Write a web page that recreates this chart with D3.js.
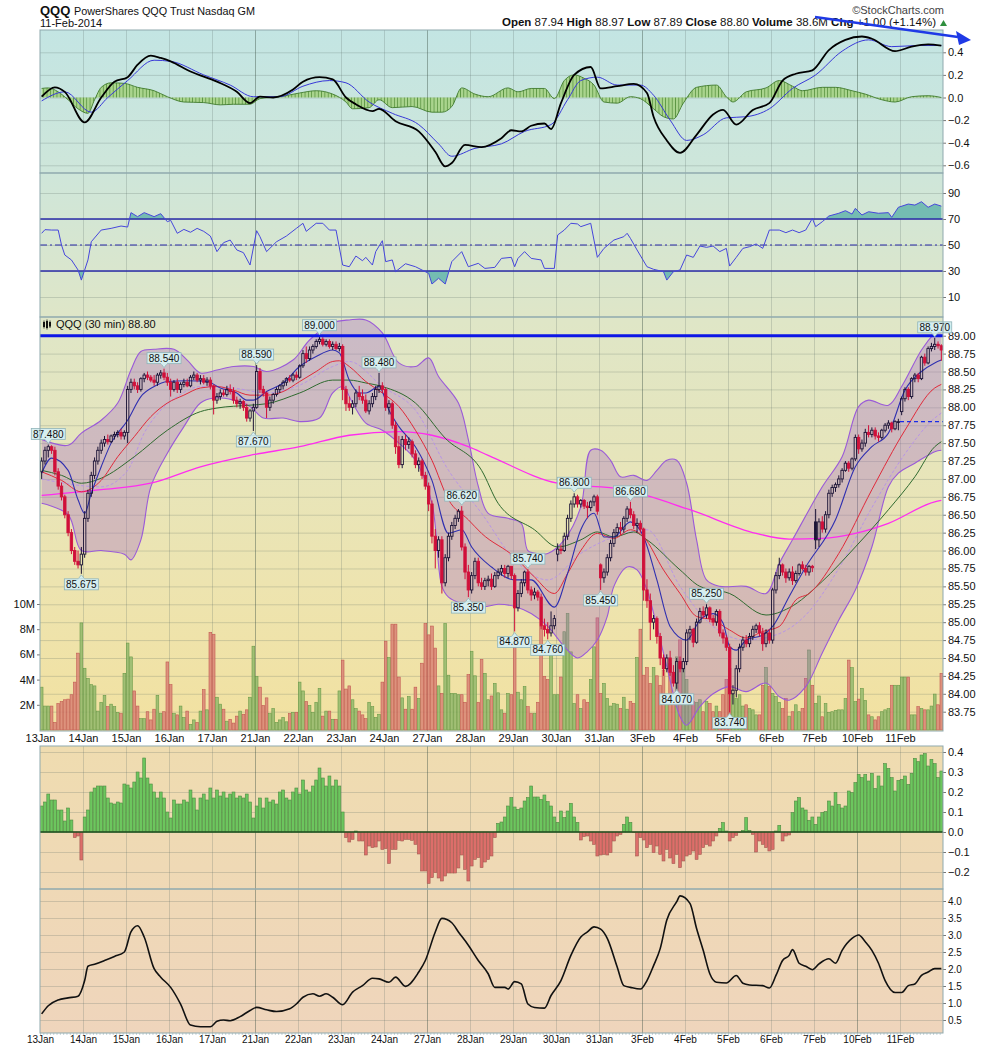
<!DOCTYPE html>
<html>
<head>
<meta charset="utf-8">
<script src="https://cdnjs.cloudflare.com/ajax/libs/d3/7.8.5/d3.min.js"></script>
<style>
  body { margin: 0; background: #fff; }
  svg { display: block; }
  text { font-family: "Liberation Sans", Arial, sans-serif; }
</style>
</head>
<body>
<svg id="chart" width="990" height="1051"></svg>
<script>
// ---------- data ----------
const days = ['13Jan','14Jan','15Jan','16Jan','17Jan','21Jan','22Jan','23Jan','24Jan','27Jan','28Jan',
  '29Jan','30Jan','31Jan','3Feb','4Feb','5Feb','6Feb','7Feb','10Feb','11Feb'];
const weekStarts = ['21Jan','27Jan','3Feb','10Feb'];
const barsPerDay = 13;

// 30 min candles: open, high, low, close
const ohlc = [
  // 13Jan
  [87.10,87.30,87.00,87.25],[87.25,87.45,87.20,87.40],[87.40,87.48,87.30,87.45],[87.45,87.47,87.35,87.40],
  [87.40,87.45,87.05,87.10],[87.10,87.15,86.85,86.90],[86.90,86.95,86.70,86.75],[86.75,86.78,86.45,86.50],
  [86.50,86.55,86.20,86.25],[86.25,86.30,85.95,86.00],[86.00,86.05,85.80,85.85],[85.85,86.00,85.75,85.80],
  [85.80,86.05,85.675,85.95],
  // 14Jan
  [85.95,86.55,85.90,86.45],[86.45,86.85,86.40,86.80],[86.80,87.10,86.75,87.05],[87.05,87.30,87.00,87.25],
  [87.25,87.45,87.20,87.40],[87.40,87.55,87.35,87.50],[87.50,87.60,87.45,87.55],[87.55,87.62,87.48,87.52],
  [87.52,87.62,87.50,87.60],[87.60,87.66,87.55,87.62],[87.62,87.68,87.58,87.65],[87.65,87.70,87.55,87.60],
  [87.60,87.68,87.55,87.65],
  // 15Jan
  [87.65,88.30,87.50,88.25],[88.25,88.40,88.20,88.35],[88.35,88.40,88.25,88.30],[88.30,88.35,88.20,88.25],
  [88.25,88.42,88.22,88.40],[88.40,88.48,88.35,88.45],[88.45,88.50,88.38,88.42],[88.42,88.45,88.35,88.38],
  [88.38,88.45,88.30,88.35],[88.35,88.48,88.30,88.45],[88.45,88.52,88.40,88.48],[88.48,88.54,88.38,88.42],
  [88.42,88.48,88.30,88.35],
  // 16Jan
  [88.35,88.40,88.15,88.25],[88.25,88.38,88.22,88.35],[88.35,88.40,88.20,88.25],[88.25,88.35,88.20,88.32],
  [88.32,88.40,88.28,88.35],[88.35,88.40,88.28,88.30],[88.30,88.45,88.28,88.42],[88.42,88.50,88.38,88.45],
  [88.45,88.48,88.35,88.38],[88.38,88.45,88.32,88.40],[88.40,88.45,88.32,88.35],[88.35,88.42,88.30,88.38],
  [88.38,88.42,88.25,88.30],
  // 17Jan
  [88.30,88.32,87.90,88.10],[88.10,88.20,88.05,88.15],[88.15,88.25,88.10,88.20],[88.20,88.25,88.15,88.18],
  [88.18,88.30,88.15,88.25],[88.25,88.32,88.18,88.22],[88.22,88.28,88.05,88.10],[88.10,88.15,88.00,88.05],
  [88.05,88.12,87.98,88.08],[88.08,88.10,87.95,88.00],[88.00,88.05,87.80,87.85],[87.85,87.98,87.80,87.95],
  [87.95,88.05,87.67,88.00],
  // 21Jan
  [88.00,88.59,87.98,88.50],[88.50,88.55,88.20,88.25],[88.25,88.30,88.15,88.20],[88.20,88.22,87.85,88.00],
  [88.00,88.15,87.95,88.10],[88.10,88.20,88.05,88.18],[88.18,88.28,88.15,88.25],[88.25,88.32,88.20,88.30],
  [88.30,88.38,88.25,88.35],[88.35,88.42,88.30,88.40],[88.40,88.45,88.35,88.38],[88.38,88.48,88.35,88.45],
  [88.45,88.50,88.38,88.42],
  // 22Jan
  [88.42,88.60,88.40,88.58],[88.58,88.80,88.55,88.75],[88.75,88.85,88.62,88.68],[88.68,88.85,88.65,88.80],
  [88.80,88.88,88.75,88.85],[88.85,88.95,88.82,88.92],[88.92,89.00,88.88,88.95],[88.95,88.98,88.85,88.88],
  [88.88,88.95,88.85,88.92],[88.92,88.95,88.82,88.85],[88.85,88.92,88.80,88.88],[88.88,88.92,88.80,88.82],
  [88.82,88.90,88.78,88.85],
  // 23Jan
  [88.85,88.88,88.10,88.25],[88.25,88.30,87.95,88.05],[88.05,88.15,87.95,88.00],[88.00,88.10,87.90,88.05],
  [88.05,88.25,88.00,88.20],[88.20,88.30,88.10,88.15],[88.15,88.25,88.05,88.10],[88.10,88.18,87.92,87.95],
  [87.95,88.10,87.90,88.05],[88.05,88.20,88.00,88.15],[88.15,88.30,88.10,88.25],[88.25,88.48,88.20,88.30],
  [88.30,88.35,88.20,88.25],
  // 24Jan
  [88.25,88.28,87.95,88.00],[88.00,88.10,87.90,88.05],[88.05,88.08,87.70,87.75],[87.75,87.80,87.35,87.45],
  [87.45,87.60,87.15,87.20],[87.20,87.60,87.15,87.55],[87.55,87.62,87.40,87.48],[87.48,87.58,87.42,87.52],
  [87.52,87.55,87.30,87.35],[87.35,87.40,87.15,87.20],[87.20,87.30,87.10,87.25],[87.25,87.28,87.00,87.05],
  [87.05,87.10,86.85,86.90],
  // 27Jan
  [86.90,86.95,86.55,86.65],[86.65,86.70,86.10,86.20],[86.20,86.30,85.75,86.00],[86.00,86.20,85.90,86.15],
  [86.15,86.20,85.40,85.55],[85.55,85.95,85.50,85.90],[85.90,86.25,85.85,86.20],[86.20,86.40,86.15,86.35],
  [86.35,86.50,86.30,86.45],[86.45,86.58,86.40,86.55],[86.55,86.62,86.00,86.05],[86.05,86.10,85.60,85.70],
  [85.70,85.80,85.35,85.45],
  // 28Jan
  [85.45,85.70,85.40,85.65],[85.65,85.90,85.60,85.85],[85.85,85.90,85.50,85.55],[85.55,85.62,85.45,85.50],
  [85.50,85.62,85.45,85.58],[85.58,85.65,85.50,85.60],[85.60,85.68,85.45,85.50],[85.50,85.70,85.48,85.65],
  [85.65,85.75,85.60,85.70],[85.70,85.80,85.65,85.75],[85.75,85.80,85.62,85.68],[85.68,85.80,85.62,85.78],
  [85.78,85.72,85.60,85.65],
  // 29Jan
  [85.65,85.68,84.87,85.20],[85.20,85.45,85.15,85.40],[85.40,85.60,85.35,85.55],[85.55,85.72,85.50,85.70],
  [85.70,85.74,85.40,85.45],[85.45,85.50,85.30,85.38],[85.38,85.48,85.32,85.42],[85.42,85.45,85.30,85.35],
  [85.35,85.40,84.90,84.95],[84.95,85.05,84.80,84.90],[84.90,85.00,84.76,84.85],[84.85,85.15,84.80,84.95],
  [84.95,85.10,84.90,85.05],
  // 30Jan
  [85.95,86.10,85.85,86.02],[86.02,86.08,85.95,86.00],[86.00,86.25,85.98,86.20],[86.20,86.50,86.15,86.45],
  [86.45,86.70,86.40,86.65],[86.65,86.80,86.60,86.75],[86.75,86.78,86.60,86.65],[86.65,86.72,86.60,86.70],
  [86.70,86.72,86.58,86.62],[86.62,86.68,86.45,86.60],[86.60,86.70,86.55,86.68],[86.68,86.78,86.62,86.75],
  [86.75,86.78,86.50,86.55],
  // 31Jan
  [85.80,85.82,85.45,85.62],[85.62,85.75,85.55,85.70],[85.70,85.95,85.65,85.90],[85.90,86.15,85.85,86.10],
  [86.10,86.30,86.05,86.25],[86.25,86.38,86.20,86.32],[86.32,86.40,86.22,86.30],[86.30,86.48,86.25,86.45],
  [86.45,86.62,86.40,86.58],[86.58,86.68,86.45,86.50],[86.50,86.55,86.30,86.35],[86.35,86.45,86.25,86.38],
  [86.38,86.42,86.25,86.30],
  // 3Feb
  [86.30,86.32,85.30,85.45],[85.45,85.60,85.20,85.30],[85.30,85.40,84.75,85.00],[85.00,85.10,84.90,85.05],
  [85.05,85.08,84.70,84.80],[84.80,84.85,84.40,84.50],[84.50,84.55,84.25,84.35],[84.35,84.55,84.30,84.50],
  [84.50,84.60,84.25,84.30],[84.30,84.40,84.10,84.15],[84.15,84.50,84.07,84.45],[84.45,84.52,84.30,84.35],
  [84.35,84.50,84.30,84.45],
  // 4Feb
  [84.45,84.90,84.40,84.85],[84.85,84.95,84.75,84.90],[84.90,84.92,84.65,84.72],[84.72,85.05,84.70,85.00],
  [85.00,85.20,84.98,85.15],[85.15,85.22,85.05,85.10],[85.10,85.25,85.05,85.20],[85.20,85.22,85.00,85.05],
  [85.05,85.10,84.95,85.00],[85.00,85.18,84.95,85.15],[85.15,85.18,84.80,84.85],[84.85,84.90,84.70,84.78],
  [84.78,84.82,84.60,84.65],
  // 5Feb
  [84.65,84.70,83.74,84.00],[84.00,84.12,83.85,84.05],[84.05,84.40,83.95,84.35],[84.35,84.70,84.30,84.65],
  [84.65,84.80,84.60,84.75],[84.75,84.82,84.65,84.70],[84.70,84.85,84.65,84.80],[84.80,84.95,84.75,84.90],
  [84.90,84.98,84.85,84.95],[84.95,85.00,84.80,84.85],[84.85,84.92,84.60,84.70],[84.70,84.90,84.65,84.85],
  [84.85,84.90,84.70,84.75],
  // 6Feb
  [84.75,85.48,84.70,85.45],[85.45,85.70,85.40,85.65],[85.65,85.90,85.60,85.80],[85.80,85.82,85.65,85.70],
  [85.70,85.75,85.55,85.62],[85.62,85.75,85.58,85.70],[85.70,85.78,85.52,85.58],[85.58,85.72,85.55,85.68],
  [85.68,85.82,85.65,85.80],[85.80,85.85,85.72,85.75],[85.75,85.80,85.65,85.70],[85.70,85.80,85.65,85.78],
  [85.78,85.80,85.70,85.76],
  // 7Feb
  [86.40,86.58,86.02,86.15],[86.15,86.45,86.05,86.40],[86.40,86.48,86.25,86.30],[86.30,86.55,86.25,86.50],
  [86.50,86.85,86.45,86.80],[86.80,86.92,86.75,86.88],[86.88,86.95,86.82,86.92],[86.92,87.05,86.88,87.00],
  [87.00,87.15,86.95,87.12],[87.12,87.25,87.10,87.22],[87.22,87.25,87.10,87.15],[87.15,87.30,87.12,87.28],
  [87.28,87.62,87.25,87.58],
  // 10Feb
  [87.58,87.62,87.35,87.42],[87.42,87.55,87.38,87.50],[87.50,87.70,87.45,87.65],[87.65,87.75,87.58,87.62],
  [87.62,87.72,87.58,87.68],[87.68,87.72,87.55,87.60],[87.60,87.65,87.52,87.58],[87.58,87.70,87.55,87.68],
  [87.68,87.78,87.65,87.75],[87.75,87.82,87.70,87.78],[87.78,87.80,87.65,87.70],[87.70,87.82,87.68,87.80],
  [87.80,87.84,87.68,87.80],
  // 11Feb
  [87.94,88.15,87.89,88.12],[88.12,88.28,88.08,88.25],[88.25,88.28,88.10,88.15],[88.15,88.42,88.12,88.40],
  [88.40,88.48,88.35,88.45],[88.45,88.48,88.35,88.40],[88.40,88.72,88.38,88.70],[88.70,88.75,88.58,88.62],
  [88.62,88.85,88.60,88.82],[88.82,88.90,88.78,88.85],[88.85,88.97,88.80,88.88],[88.88,88.92,88.82,88.86],
  [88.86,88.88,88.65,88.80]
];

// volume per bar, millions
const volume = [
  3.4,1.9,1.9,1.9,0.6,2.1,2.25,2.4,2.45,2.8,3.8,6.1,8.5,
  4.9,4.1,3.6,3.5,1.5,2.2,2.75,1.85,2.05,1.85,1.4,1.3,4.5,
  6.9,5.8,3.1,1.9,0.9,0.9,1.45,0.8,1.65,2.75,1.3,1.45,5.4,
  3.6,1.3,1.2,1.9,1.0,1.5,0.45,0.8,0.6,1.5,3.2,1.6,7.75,
  7.6,2.6,2.05,1.65,0.7,0.85,0.55,1.1,1.5,1.25,1.6,2.6,6.65,
  4.25,3.4,1.95,2.55,1.3,1.7,0.6,0.8,1.0,0.65,1.3,1.4,1.4,
  3.8,3.1,2.25,1.95,1.4,2.2,3.3,1.1,1.5,1.5,0.85,0.85,3.1,
  5.55,3.25,3.5,2.4,1.7,1.5,1.2,0.9,2.2,1.85,1.0,1.25,3.8,
  7.05,5.75,8.4,8.4,4.2,2.55,1.65,2.65,1.65,3.4,2.5,5.3,8.45,
  7.55,8.25,6.5,3.5,2.9,8.45,4.35,2.9,2.9,2.8,2.8,2.2,4.4,
  6.25,4.3,2.2,5.6,4.5,2.4,2.7,3.7,2.95,1.6,1.3,2.9,2.8,
  7.0,3.0,2.4,3.45,1.85,1.3,1.3,2.2,8.2,4.25,4.0,6.5,2.8,
  2.8,4.2,7.8,9.25,6.2,2.1,2.8,1.7,2.4,2.2,4.0,6.6,8.9,
  2.9,3.7,2.5,1.9,2.1,2.05,1.7,2.6,1.65,2.25,2.1,5.75,8.0,
  4.35,4.95,3.7,4.95,4.3,3.55,4.75,2.8,5.3,2.65,5.8,7.15,4.9,
  4.0,2.0,2.25,2.2,2.4,1.45,2.25,2.1,1.45,1.9,1.45,2.8,4.0,
  4.9,2.8,2.5,2.8,1.9,2.0,1.7,1.6,1.2,1.2,3.55,4.95,3.45,
  2.9,2.65,2.2,1.7,2.5,1.1,1.45,2.0,1.45,1.7,4.1,6.35,3.55,
  2.1,2.7,1.05,2.1,1.4,1.45,1.55,1.6,1.6,2.5,5.55,4.95,2.25,
  2.45,3.3,2.35,1.2,1.05,0.8,1.05,1.45,1.6,1.7,3.55,3.55,3.55,
  4.2,4.2,4.2,1.2,1.2,1.85,1.7,1.6,1.6,1.9,2.85,2.0,4.5
];

// overlay lines, [bar index, price]
const bbUpper = [[0,87.55],[8,87.47],[12,87.64],[18,87.82],[23,88.06],[27,88.52],[30,88.78],[34,88.81],[40,88.81],
  [44,88.66],[48,88.48],[53,88.52],[58,88.57],[64,88.57],[68,88.50],[76,88.66],[81,88.94],[88,89.18],[93,89.22],
  [98,89.22],[103,89.04],[108,88.62],[113,88.57],[117,88.69],[120,88.43],[126,88.06],[129,87.55],[132,86.90],
  [135,86.52],[141,86.45],[145,86.38],[147,86.00],[150,85.96],[153,85.96],[158,86.15],[163,86.61],[166,87.40],
  [169,87.40],[172,87.26],[175,87.03],[179,87.05],[183,86.98],[186,87.12],[189,87.26],[192,87.26],[195,86.94],
  [198,86.15],[201,85.59],[205,85.50],[213,85.50],[219,85.40],[223,85.82],[227,86.15],[236,86.89],[242,87.31],
  [247,88.01],[250,88.10],[256,88.03],[260,88.29],[266,88.80],[270,89.04],[272,89.12]];
const bbLower = [[0,86.66],[8,86.50],[12,86.00],[18,86.00],[25,85.95],[27,85.87],[30,86.15],[33,86.89],[38,87.36],
  [43,87.73],[48,88.06],[52,88.13],[58,88.10],[63,88.01],[67,87.85],[73,87.85],[78,87.80],[84,87.85],[88,88.20],
  [91,88.29],[94,88.06],[98,87.78],[103,87.68],[108,87.50],[113,87.26],[118,86.66],[121,85.50],[123,85.35],
  [127,85.26],[133,85.21],[138,85.25],[143,85.22],[148,85.12],[153,84.94],[158,84.66],[162,84.50],[165,84.59],
  [168,84.75],[171,85.08],[173,85.50],[177,85.77],[180,85.73],[183,85.45],[186,84.94],[189,84.38],[193,83.68],
  [195,83.56],[199,83.82],[203,84.00],[208,84.10],[213,84.03],[219,84.15],[223,83.96],[226,83.91],[231,84.10],
  [236,84.57],[241,85.03],[246,85.45],[251,86.05],[256,86.89],[259,87.08],[264,87.22],[270,87.38],[272,87.40]];
const bbMiddle = [[0,87.00],[18,86.89],[26,87.12],[31,87.64],[36,87.96],[41,88.15],[48,88.29],[58,88.27],[68,88.20],
  [78,88.31],[88,88.57],[93,88.64],[103,88.29],[113,87.96],[123,87.12],[133,86.52],[143,85.87],[153,85.59],
  [163,85.96],[173,86.19],[183,86.29],[193,85.50],[203,84.94],[213,84.75],[223,84.84],[231,85.10],[241,85.75],
  [251,86.60],[261,87.35],[270,87.85],[272,87.92]];
const emaFast = [[0,87.08],[3,87.29],[8,87.12],[11,86.71],[13,86.52],[15,86.80],[18,87.17],[21,87.50],[26,87.82],
  [30,88.15],[34,88.29],[38,88.36],[44,88.37],[50,88.36],[54,88.27],[59,88.20],[62,88.10],[64,88.10],[68,88.22],
  [73,88.34],[78,88.57],[83,88.71],[88,88.80],[90,88.76],[93,88.38],[96,88.20],[98,88.20],[102,88.29],[105,87.96],
  [108,87.73],[113,87.45],[118,86.98],[123,86.24],[127,86.29],[130,86.05],[136,85.77],[143,85.59],[148,85.59],
  [155,85.21],[159,85.68],[163,86.29],[167,86.52],[170,86.19],[173,86.19],[178,86.40],[182,86.19],[186,85.59],
  [190,84.94],[195,84.75],[199,85.03],[203,85.12],[206,84.99],[208,84.66],[210,84.61],[213,84.75],[218,84.82],
  [221,84.94],[226,85.36],[231,85.77],[240,86.43],[246,87.17],[251,87.45],[256,87.64],[261,88.24],[266,88.50],
  [270,88.62],[272,88.66]];
const emaMid = [[0,87.10],[6,86.98],[12,86.82],[18,86.98],[23,87.31],[28,87.59],[33,87.87],[38,88.06],[43,88.17],
  [48,88.27],[53,88.29],[58,88.24],[63,88.17],[68,88.17],[73,88.22],[78,88.36],[83,88.50],[88,88.64],[90,88.65],
  [93,88.57],[98,88.36],[103,88.20],[108,88.01],[113,87.68],[118,87.26],[123,86.71],[129,86.43],[133,86.24],
  [143,85.91],[149,85.63],[155,85.40],[159,85.68],[163,86.00],[168,86.24],[173,86.17],[178,86.29],[182,86.19],
  [188,85.73],[193,85.40],[198,85.08],[203,85.03],[208,84.89],[213,84.78],[218,84.87],[223,84.94],[228,85.31],
  [232,85.40],[241,85.96],[251,86.85],[261,87.68],[270,88.27],[272,88.32]];
const sma50 = [[0,87.12],[6,87.05],[12,86.94],[18,87.01],[28,87.31],[38,87.68],[48,87.94],[53,87.99],[63,88.03],
  [68,88.05],[78,88.20],[88,88.38],[93,88.38],[98,88.34],[103,88.29],[113,88.06],[122,87.57],[133,87.12],
  [138,86.66],[149,86.29],[156,86.05],[163,86.15],[168,86.26],[173,86.19],[179,86.26],[183,86.15],[193,85.73],
  [199,85.50],[208,85.40],[219,85.10],[226,85.20],[236,85.57],[246,86.05],[256,86.57],[264,87.03],[270,87.45],
  [272,87.52]];
const sma200 = [[0,86.77],[18,86.85],[33,86.94],[48,87.17],[63,87.33],[78,87.45],[93,87.61],[108,87.66],[118,87.61],
  [129,87.45],[135,87.33],[156,86.94],[176,86.85],[196,86.57],[216,86.24],[226,86.16],[236,86.17],[246,86.24],
  [256,86.38],[270,86.68],[272,86.70]];

// swing labels: [bar index, 'h' = high / 'l' = low]
const swings = [[2,'h'],[12,'l'],[37,'h'],[64,'l'],[65,'h'],[84,'h'],[102,'h'],[127,'h'],[129,'l'],[143,'l'],
  [147,'h'],[153,'l'],[161,'h'],[169,'l'],[178,'h'],[192,'l'],[201,'h'],[208,'l'],[270,'h']];
const resistance = 89.00;
const prevClose = 87.80;

// MACD panel, [bar index, value]
const macdLine = [[0,0.007],[4,0.09],[7,0.05],[13,-0.22],[18,0.0],[22,0.14],[26,0.18],[29,0.29],[33,0.37],[36,0.35],
  [39,0.32],[45,0.23],[53,0.14],[59,0.05],[63,-0.05],[66,0.007],[70,0.0],[76,0.07],[79,0.14],[84,0.18],[88,0.16],
  [92,0.0],[95,-0.06],[100,-0.12],[102,-0.1],[107,-0.21],[114,-0.3],[119,-0.48],[122,-0.61],[124,-0.58],[128,-0.42],
  [133,-0.44],[139,-0.36],[142,-0.29],[145,-0.3],[148,-0.25],[152,-0.23],[154,-0.28],[157,-0.05],[161,0.2],
  [166,0.27],[169,0.08],[174,0.1],[179,0.12],[183,0.04],[185,-0.17],[189,-0.38],[193,-0.49],[198,-0.33],
  [203,-0.15],[206,-0.11],[210,-0.24],[215,-0.11],[220,-0.05],[224,0.15],[228,0.21],[233,0.24],[238,0.42],
  [243,0.51],[248,0.54],[251,0.52],[258,0.41],[263,0.45],[268,0.47],[272,0.46]];
const macdSignal = [[0,-0.03],[7,0.05],[15,-0.13],[20,0.0],[26,0.15],[34,0.33],[39,0.32],[49,0.2],[57,0.11],
  [64,0.007],[72,0.007],[79,0.1],[87,0.15],[92,0.13],[99,-0.04],[106,-0.14],[114,-0.24],[120,-0.41],[124,-0.52],
  [131,-0.45],[139,-0.41],[146,-0.3],[154,-0.24],[159,-0.02],[163,0.15],[168,0.18],[174,0.11],[181,0.11],
  [185,0.02],[190,-0.2],[195,-0.38],[200,-0.33],[207,-0.18],[213,-0.17],[220,-0.1],[227,0.08],[234,0.2],
  [242,0.41],[250,0.51],[257,0.45],[265,0.46],[272,0.46]];
const macdHist = [[0,0.08],[2,0.085],[5,0.05],[8,-0.02],[11,-0.1],[14,-0.14],[16,-0.02],[18,0.09],[21,0.13],
  [25,0.125],[29,0.09],[34,0.06],[38,0.007],[43,-0.04],[49,-0.045],[54,-0.065],[58,-0.06],[63,-0.06],[66,-0.01],
  [72,0.007],[78,0.04],[83,0.06],[88,0.03],[92,-0.04],[94,-0.1],[99,-0.09],[102,-0.02],[106,-0.09],[112,-0.08],
  [118,-0.13],[121,-0.13],[124,-0.08],[127,0.085],[131,0.03],[135,0.007],[141,0.085],[144,0.05],[148,0.08],
  [152,0.08],[155,-0.01],[158,0.15],[161,0.2],[164,0.17],[167,0.11],[170,-0.04],[174,-0.05],[178,0.007],
  [181,-0.01],[185,-0.1],[188,-0.17],[191,-0.19],[194,-0.05],[198,0.09],[204,0.11],[207,0.007],[209,-0.04],
  [213,0.05],[219,0.085],[223,0.15],[227,0.1],[230,0.06],[236,0.09],[240,0.09],[245,0.06],[249,0.03],
  [254,-0.02],[258,-0.04],[263,0.007],[268,0.016],[272,0.0]];

// RSI, [bar index, value]
const rsi = [[0,59],[1,61.8],[3,61.5],[5,61.5],[6,50],[7,42.3],[9,38.5],[11,30.8],[12,23],[14,38.5],[15,52.5],
  [18,61.5],[21,62.8],[24,64.6],[26,63.8],[27,74.9],[29,71.8],[31,74.9],[34,71.8],[36,74.1],[38,67.9],[39,69],
  [41,59],[43,62],[45,59.8],[47,62.8],[49,60.5],[51,56.9],[53,44.9],[55,51.8],[57,53.8],[59,46.2],[61,44.1],
  [63,34.6],[65,61],[66,56.4],[68,44.9],[71,52.5],[74,56.9],[77,62.8],[79,66.7],[80,60.5],[83,66.7],[85,66.7],
  [87,61.5],[89,61.5],[91,34.6],[93,33.3],[95,41.5],[97,37.9],[98,40.5],[100,34.6],[101,44.9],[103,53.3],
  [104,37.2],[106,38.5],[107,29.5],[110,35.6],[113,33.3],[117,28.2],[118,20],[120,24.4],[122,20],[124,37.2],
  [127,44.9],[129,33.3],[132,35.9],[134,32],[137,32.8],[139,39.7],[142,40.5],[143,33.3],[144,39.7],[146,44.9],
  [148,39.7],[151,38.5],[152,32],[155,32],[156,57.7],[158,61.5],[160,66.7],[162,66.2],[163,64.1],[166,66.7],
  [168,40.5],[170,47.4],[173,53.8],[176,56.4],[177,59],[178,55.1],[180,46.2],[183,33.3],[185,31.3],[188,29.5],
  [189,23],[191,29.5],[193,30.8],[195,42.3],[197,40.5],[199,49.2],[201,48.2],[203,49.2],[205,44.9],[207,47.4],
  [208,33.8],[210,40.5],[212,47.4],[214,48.7],[216,50.8],[218,47.4],[220,61.5],[223,61.5],[225,59.5],[227,61.5],
  [229,59.5],[231,61.5],[233,70.5],[234,64.1],[236,67.9],[238,72.3],[241,74.4],[243,76.4],[245,73.8],[246,78.2],
  [248,73.1],[250,75.6],[253,74.4],[256,74.9],[257,71.3],[259,79],[262,81.5],[264,80.7],[266,83.3],[268,79],
  [270,81.5],[272,79.9]];

// lower histogram panel, one value per bar
const osc = [
  0.13,0.15,0.19,0.16,0.16,0.11,0.11,0.055,0.12,0.06,-0.028,-0.02,-0.14,
  0.075,0.11,0.2,0.22,0.23,0.23,0.23,0.17,0.145,0.14,0.15,0.145,0.24,0.235,0.22,0.25,0.3,0.27,0.37,0.27,0.24,
  0.2,0.17,0.2,0.17,0.1,0.07,0.16,0.14,0.14,0.16,0.15,0.21,0.17,0.11,0.17,0.19,0.16,0.22,0.17,0.21,0.18,0.2,
  0.17,0.19,0.2,0.17,0.18,0.17,0.19,0.15,0.07,0.13,0.17,0.12,0.17,0.15,0.16,0.14,0.2,0.21,0.17,0.16,0.2,0.22,
  0.19,0.26,0.21,0.2,0.23,0.26,0.32,0.27,0.23,0.28,0.23,0.26,0.23,0.1,
  -0.028,-0.05,-0.037,0.005,-0.045,-0.045,-0.115,-0.07,-0.078,-0.075,-0.045,-0.087,-0.083,-0.157,-0.087,-0.087,
  -0.042,-0.045,-0.037,-0.037,-0.042,-0.062,-0.11,-0.195,-0.195,-0.257,-0.228,-0.203,-0.23,-0.245,-0.22,-0.205,
  -0.205,-0.205,-0.18,-0.115,-0.187,-0.245,-0.17,-0.137,-0.128,-0.178,-0.15,-0.137,-0.12,-0.028,
  0.043,0.05,0.075,0.13,0.172,0.125,0.113,0.12,0.155,0.172,0.23,0.175,0.175,0.163,0.185,0.152,0.13,0.075,0.048,
  0.105,0.072,0.105,0.143,0.075,0.048,
  -0.04,-0.023,-0.02,-0.045,-0.062,-0.12,-0.115,-0.112,-0.115,-0.103,-0.045,-0.02,-0.012,
  0.038,0.075,0.048,
  -0.003,-0.12,-0.028,-0.04,-0.078,-0.062,-0.103,-0.07,-0.112,-0.145,-0.087,-0.13,-0.158,-0.112,-0.178,-0.145,
  -0.12,-0.112,-0.095,-0.137,-0.112,-0.078,-0.062,-0.07,-0.045,-0.02,0.018,0.047,0.005,-0.045,-0.028,-0.017,
  -0.003,0.008,0.072,0.008,-0.012,-0.1,-0.045,-0.062,-0.078,-0.095,-0.087,0.005,0.033,-0.045,-0.02,-0.015,
  0.097,0.155,0.172,0.12,0.11,0.058,0.075,0.038,0.075,0.097,0.102,0.155,0.13,0.197,0.138,0.12,0.13,0.205,0.197,
  0.247,0.288,0.272,0.288,0.255,0.293,0.218,0.28,0.23,0.342,0.318,0.272,0.205,0.258,0.263,0.28,0.238,0.293,
  0.368,0.352,0.385,0.392,0.33,0.363,0.342,0.272,0.305
];

// bottom line panel, [bar index, value]
const bandWidth = [[0,0.68],[2,0.92],[5,1.09],[8,1.15],[11,1.2],[13,1.66],[14,2.08],[16,2.14],[19,2.25],[22,2.37],
  [25,2.5],[27,3.09],[29,3.27],[31,2.94],[34,2.01],[36,1.76],[39,1.46],[42,0.97],[45,0.35],[48,0.3],[51,0.3],
  [53,0.46],[55,0.5],[57,0.48],[60,0.6],[63,0.78],[65,0.87],[68,0.8],[71,0.75],[75,0.83],[77,0.97],[79,1.17],
  [82,1.27],[84,1.2],[86,1.27],[88,1.17],[91,0.95],[94,1.32],[97,1.51],[100,1.73],[102,1.71],[105,1.61],
  [107,1.76],[110,1.49],[114,1.91],[116,2.25],[119,3.09],[121,3.49],[124,3.36],[126,3.09],[129,2.7],[132,2.25],
  [135,1.86],[137,1.46],[140,1.46],[141,1.41],[143,1.63],[145,1.56],[147,0.97],[149,0.87],[152,0.85],[154,1.22],
  [157,1.66],[160,2.4],[163,2.94],[165,3.09],[167,3.24],[169,3.17],[171,2.9],[174,2.06],[176,1.51],[178,1.46],
  [181,1.41],[183,1.66],[185,2.1],[187,2.6],[189,3.44],[192,3.98],[193,4.15],[196,3.93],[198,3.19],[200,2.55],
  [202,1.86],[204,1.61],[207,1.59],[210,1.81],[212,1.58],[214,1.53],[218,1.51],[220,1.44],[222,1.81],[224,2.25],
  [226,2.4],[227,2.57],[229,2.17],[231,2.08],[233,1.98],[235,2.15],[238,2.3],[240,2.17],[242,2.55],[245,2.9],
  [247,3.0],[249,2.8],[251,2.55],[253,2.17],[255,1.66],[258,1.31],[260,1.31],[262,1.51],[264,1.56],[266,1.81],
  [268,1.91],[270,2.01],[272,2.01]];

// tick labels
const macdTicks = [0.4, 0.2, 0.0, -0.2, -0.4, -0.6];
const rsiTicks = [90, 70, 50, 30, 10];
const priceTicks = [89.00,88.75,88.50,88.25,88.00,87.75,87.50,87.25,87.00,86.75,86.50,86.25,86.00,85.75,85.50,
  85.25,85.00,84.75,84.50,84.25,84.00,83.75];
const volTicks = [2, 4, 6, 8, 10];
const oscTicks = [0.4, 0.3, 0.2, 0.1, 0.0, -0.1, -0.2];
const bwTicks = [4.0, 3.5, 3.0, 2.5, 2.0, 1.5, 1.0, 0.5];

// ---------- layout ----------
const X0 = 40, X1 = 943;
const N = days.length * barsPerDay;
const svg = d3.select('#chart');
const defs = svg.append('defs');

const x = d3.scaleLinear().domain([0, N]).range([X0, X1]);
const xc = i => x(i + 0.5);
const bw = x(1) - x(0);
const dayStarts = days.map((d, i) => i * barsPerDay);

const yMacd = d3.scaleLinear().domain([-0.6, 0.4]).range([165.3, 52.3]);
const yRsi = d3.scaleLinear().domain([10, 90]).range([297, 193]);
const yPrice = d3.scaleLinear().domain([83.75, 89]).range([711.7, 335.7]);
const yVol = d3.scaleLinear().domain([0, 10]).range([730, 604]);
const yOsc = d3.scaleLinear().domain([-0.2, 0.4]).range([872, 752]);
const yBw = d3.scaleLinear().domain([0.5, 4]).range([1020, 901]);

const panels = [
  { id: 'macd', top: 30, bottom: 173, y: yMacd, ticks: macdTicks, fmt: d3.format('.1f') },
  { id: 'rsi', top: 173, bottom: 317, y: yRsi, ticks: rsiTicks, fmt: d3.format('d') },
  { id: 'price', top: 317, bottom: 731, y: yPrice, ticks: priceTicks, fmt: d3.format('.2f') },
  { id: 'osc', top: 746, bottom: 889, y: yOsc, ticks: oscTicks, fmt: d3.format('.1f') },
  { id: 'bw', top: 889, bottom: 1033, y: yBw, ticks: bwTicks, fmt: d3.format('.1f') }
];

const grad = defs.append('linearGradient').attr('id', 'bg')
  .attr('gradientUnits', 'userSpaceOnUse').attr('x1', 0).attr('x2', 0).attr('y1', 30).attr('y2', 1033);
[[0, '#c3e5e3'], [0.14, '#cee6da'], [0.29, '#dfe6c7'], [0.55, '#ede4b0'], [0.70, '#f2e1a0'],
 [0.716, '#efdcb0'], [1, '#efd5bc']].forEach(([o, c]) => grad.append('stop').attr('offset', o).attr('stop-color', c));

const gridColor = 'rgba(80,100,95,0.22)';
const weekColor = 'rgba(60,80,70,0.42)';

panels.forEach(p => {
  svg.append('rect').attr('x', X0).attr('y', p.top).attr('width', X1 - X0).attr('height', p.bottom - p.top)
    .attr('fill', 'url(#bg)');
  defs.append('clipPath').attr('id', 'clip-' + p.id).append('rect')
    .attr('x', X0).attr('y', p.top).attr('width', X1 - X0).attr('height', p.bottom - p.top);

  svg.append('g').attr('transform', `translate(${X0},0)`)
    .call(d3.axisRight(p.y).tickValues(p.ticks).tickSize(X1 - X0).tickFormat(''))
    .call(g => g.select('.domain').remove())
    .selectAll('line').attr('stroke', gridColor);

  svg.append('g').attr('transform', `translate(0,${p.bottom})`)
    .call(d3.axisBottom(x).tickValues(dayStarts.slice(1)).tickSize(-(p.bottom - p.top)).tickFormat(''))
    .call(g => g.select('.domain').remove())
    .selectAll('line')
    .attr('stroke', d => weekStarts.includes(days[d / barsPerDay]) ? weekColor : gridColor);

  const ax = svg.append('g').attr('transform', `translate(${X1},0)`)
    .call(d3.axisRight(p.y).tickValues(p.ticks).tickSize(3).tickPadding(2).tickFormat(p.fmt))
    .call(g => g.select('.domain').remove());
  ax.selectAll('line').attr('stroke', '#777');
  ax.selectAll('text').attr('font-size', p.id === 'bw' ? 10 : 11)
    .attr('font-family', '"Liberation Sans", Arial, sans-serif').attr('fill', '#111');
});

const lineOf = y => d3.line().x(d => xc(d[0])).y(d => y(d[1])).curve(d3.curveMonotoneX);

// ---------- MACD ----------
const pat = defs.append('pattern').attr('id', 'macdStripes').attr('patternUnits', 'userSpaceOnUse')
  .attr('x', X0).attr('y', 0).attr('width', bw).attr('height', 20);
pat.append('rect').attr('width', bw).attr('height', 20).attr('fill', '#a9d48d');
pat.append('line').attr('x1', 0.4).attr('x2', 0.4).attr('y1', 0).attr('y2', 20)
  .attr('stroke', '#4f8a38').attr('stroke-width', 0.8);

const gM = svg.append('g').attr('clip-path', 'url(#clip-macd)');
gM.append('path').datum(macdHist)
  .attr('d', d3.area().x(d => xc(d[0])).y0(yMacd(0)).y1(d => yMacd(d[1])).curve(d3.curveMonotoneX))
  .attr('fill', 'url(#macdStripes)').attr('stroke', 'none');
gM.append('path').datum(macdHist).attr('d', lineOf(yMacd))
  .attr('fill', 'none').attr('stroke', '#3f7a2c').attr('stroke-width', 0.9);
gM.append('path').datum(macdSignal).attr('d', lineOf(yMacd))
  .attr('fill', 'none').attr('stroke', '#3838d8').attr('stroke-width', 1);
gM.append('path').datum(macdLine).attr('d', lineOf(yMacd))
  .attr('fill', 'none').attr('stroke', '#000').attr('stroke-width', 1.8);

// ---------- RSI ----------
const gR = svg.append('g').attr('clip-path', 'url(#clip-rsi)');
defs.append('clipPath').attr('id', 'rsi-hi').append('rect')
  .attr('x', X0).attr('y', 173).attr('width', X1 - X0).attr('height', yRsi(70) - 173);
defs.append('clipPath').attr('id', 'rsi-lo').append('rect')
  .attr('x', X0).attr('y', yRsi(30)).attr('width', X1 - X0).attr('height', 317 - yRsi(30));
const rsiArea = base => d3.area().x(d => xc(d[0])).y0(yRsi(base)).y1(d => yRsi(d[1]));
gR.append('path').datum(rsi).attr('d', rsiArea(70)).attr('clip-path', 'url(#rsi-hi)').attr('fill', '#74bcb2');
gR.append('path').datum(rsi).attr('d', rsiArea(30)).attr('clip-path', 'url(#rsi-lo)').attr('fill', '#74bcb2');
[70, 30].forEach(v => gR.append('line').attr('x1', X0).attr('x2', X1).attr('y1', yRsi(v)).attr('y2', yRsi(v))
  .attr('stroke', '#2b2ba8').attr('stroke-width', 1.3));
gR.append('line').attr('x1', X0).attr('x2', X1).attr('y1', yRsi(50)).attr('y2', yRsi(50))
  .attr('stroke', '#2b2ba8').attr('stroke-width', 1.1).attr('stroke-dasharray', '7,3,2,3');
gR.append('path').datum(rsi).attr('d', d3.line().x(d => xc(d[0])).y(d => yRsi(d[1])))
  .attr('fill', 'none').attr('stroke', '#4646dc').attr('stroke-width', 1);

// ---------- price + volume ----------
const gP = svg.append('g').attr('clip-path', 'url(#clip-price)');
const closeUp = (i) => i === 0 ? ohlc[0][3] >= ohlc[0][0] : ohlc[i][3] >= ohlc[i - 1][3];

gP.append('g').selectAll('rect').data(volume).join('rect')
  .attr('x', (d, i) => x(i) + 0.3).attr('width', bw - 0.6)
  .attr('y', d => yVol(d)).attr('height', d => yVol(0) - yVol(d))
  .attr('fill', (d, i) => closeUp(i) ? '#93b86c' : '#d98476')
  .attr('fill-opacity', 0.85)
  .attr('stroke', (d, i) => closeUp(i) ? '#6a9a48' : '#c25a52').attr('stroke-width', 0.6);

const bandLine = d3.line().x(d => xc(d[0])).y(d => yPrice(d[1])).curve(d3.curveCatmullRom.alpha(0.5));
const bandPath = bandLine(bbUpper) + 'L' + bandLine(bbLower.slice().reverse()).slice(1) + 'Z';
gP.append('path').attr('d', bandPath).attr('fill', '#a064c4').attr('fill-opacity', 0.33);
gP.append('path').datum(bbUpper).attr('d', bandLine).attr('fill', 'none').attr('stroke', '#9a5ad8').attr('stroke-width', 1.1);
gP.append('path').datum(bbLower).attr('d', bandLine).attr('fill', 'none').attr('stroke', '#9a5ad8').attr('stroke-width', 1.1);
gP.append('path').datum(bbMiddle).attr('d', lineOf(yPrice)).attr('fill', 'none')
  .attr('stroke', '#b895e6').attr('stroke-width', 1).attr('stroke-dasharray', '3,2');
gP.append('path').datum(sma200).attr('d', lineOf(yPrice)).attr('fill', 'none').attr('stroke', '#ff2cf0').attr('stroke-width', 1.3);
gP.append('path').datum(sma50).attr('d', lineOf(yPrice)).attr('fill', 'none').attr('stroke', '#2f6a2f').attr('stroke-width', 1);
gP.append('path').datum(emaMid).attr('d', lineOf(yPrice)).attr('fill', 'none').attr('stroke', '#e02a3a').attr('stroke-width', 1);
gP.append('path').datum(emaFast).attr('d', lineOf(yPrice)).attr('fill', 'none').attr('stroke', '#2f2fb0').attr('stroke-width', 1.1);

const candleCol = i => closeUp(i) ? '#1b1336' : '#d0103a';
const candles = gP.append('g').selectAll('g').data(ohlc).join('g');
candles.append('line')
  .attr('x1', (d, i) => xc(i)).attr('x2', (d, i) => xc(i))
  .attr('y1', d => yPrice(d[1])).attr('y2', d => yPrice(Math.max(d[0], d[3])))
  .attr('stroke', (d, i) => candleCol(i)).attr('stroke-width', 1);
candles.append('line')
  .attr('x1', (d, i) => xc(i)).attr('x2', (d, i) => xc(i))
  .attr('y1', d => yPrice(Math.min(d[0], d[3]))).attr('y2', d => yPrice(d[2]))
  .attr('stroke', (d, i) => candleCol(i)).attr('stroke-width', 1);
candles.append('rect')
  .attr('x', (d, i) => xc(i) - 1.2).attr('width', 2.4)
  .attr('y', d => yPrice(Math.max(d[0], d[3])))
  .attr('height', d => Math.max(0.8, yPrice(Math.min(d[0], d[3])) - yPrice(Math.max(d[0], d[3]))))
  .attr('fill', (d, i) => d[3] < d[0] ? candleCol(i) : 'none')
  .attr('stroke', (d, i) => candleCol(i)).attr('stroke-width', 0.9);

gP.append('line').attr('x1', X0).attr('x2', X1).attr('y1', yPrice(resistance)).attr('y2', yPrice(resistance))
  .attr('stroke', '#0c16e6').attr('stroke-width', 3);
gP.append('line').attr('x1', x(N - barsPerDay)).attr('x2', X1).attr('y1', yPrice(prevClose)).attr('y2', yPrice(prevClose))
  .attr('stroke', '#1a2ae8').attr('stroke-width', 1.3).attr('stroke-dasharray', '4,3');

// swing labels
const gL = svg.append('g');
swings.forEach(([i, kind]) => {
  const v = kind === 'h' ? ohlc[i][1] : ohlc[i][2];
  const cx = xc(i), py = yPrice(v);
  const s = kind === 'h' ? -1 : 1;
  const boxY = kind === 'h' ? py - 16 : py + 5;
  gL.append('path')
    .attr('d', `M${cx - 3.5},${py + s * 5.5} L${cx},${py + s * 1} L${cx + 3.5},${py + s * 5.5} Z`)
    .attr('fill', '#d6eef0').attr('stroke', '#8fb4b8').attr('stroke-width', 0.8);
  gL.append('rect').attr('x', cx - 17).attr('y', boxY).attr('width', 34).attr('height', 11)
    .attr('fill', '#d6eef0').attr('stroke', '#8fb4b8').attr('stroke-width', 0.8);
  gL.append('rect').attr('x', cx - 3).attr('y', kind === 'h' ? py - 5.8 : py + 4.6).attr('width', 6).attr('height', 1.4)
    .attr('fill', '#d6eef0');
  gL.append('text').attr('x', cx).attr('y', boxY + 9).attr('text-anchor', 'middle')
    .attr('font-size', 10).attr('fill', '#111').text(v.toFixed(3));
});

// volume axis on the left
const vax = svg.append('g').attr('transform', `translate(${X0},0)`)
  .call(d3.axisLeft(yVol).tickValues(volTicks).tickSize(3).tickPadding(2).tickFormat(d => d + 'M'))
  .call(g => g.select('.domain').remove());
vax.selectAll('line').attr('stroke', '#777');
vax.selectAll('text').attr('font-size', 11).attr('font-family', '"Liberation Sans", Arial, sans-serif').attr('fill', '#111');

// legend
const leg = svg.append('g');
[[44, 322, 327], [47, 321, 328], [50, 322, 326.5]].forEach(([lx, a, b]) => {
  leg.append('line').attr('x1', lx).attr('x2', lx).attr('y1', a - 1.5).attr('y2', b + 1.5).attr('stroke', '#111').attr('stroke-width', 0.8);
  leg.append('rect').attr('x', lx - 1).attr('y', a).attr('width', 2).attr('height', b - a).attr('fill', '#111');
});
leg.append('text').attr('x', 56).attr('y', 328).attr('font-size', 11)
  .attr('font-family', '"DejaVu Sans", sans-serif').attr('fill', '#111').text('QQQ (30 min) 88.80');

// ---------- lower oscillator ----------
const gO = svg.append('g').attr('clip-path', 'url(#clip-osc)');
gO.append('g').selectAll('rect').data(osc).join('rect')
  .attr('x', (d, i) => x(i) + 0.2).attr('width', bw - 0.4)
  .attr('y', d => yOsc(Math.max(0, d))).attr('height', d => Math.abs(yOsc(d) - yOsc(0)))
  .attr('fill', d => d >= 0 ? '#6cc65e' : '#dd6e6a')
  .attr('stroke', d => d >= 0 ? '#4f8a42' : '#a25a50').attr('stroke-width', 0.6);
gO.append('line').attr('x1', X0).attr('x2', X1).attr('y1', yOsc(0)).attr('y2', yOsc(0))
  .attr('stroke', '#1f4f1f').attr('stroke-width', 1.4);

// ---------- bottom line ----------
svg.append('g').attr('clip-path', 'url(#clip-bw)')
  .append('path').datum(bandWidth).attr('d', lineOf(yBw))
  .attr('fill', 'none').attr('stroke', '#111').attr('stroke-width', 1.6);

// ---------- borders ----------
panels.forEach(p => {
  svg.append('rect').attr('x', X0).attr('y', p.top).attr('width', X1 - X0).attr('height', p.bottom - p.top)
    .attr('fill', 'none').attr('stroke', '#8fa9ae').attr('stroke-width', 1);
});

// ---------- date axes ----------
const dateAxis = (y, size) => {
  const g = svg.append('g').attr('transform', `translate(0,${y})`)
    .call(d3.axisBottom(x).tickValues(dayStarts).tickSize(0).tickPadding(3).tickFormat((d, i) => days[i]))
    .call(g => g.select('.domain').remove());
  g.selectAll('text').attr('font-size', size).attr('font-family', '"Liberation Sans", Arial, sans-serif').attr('fill', '#111');
};
dateAxis(731, 11);
dateAxis(1033, 10);
svg.append('g').attr('transform', 'translate(0,1033)')
  .call(d3.axisBottom(x).tickValues(d3.range(0, N, 1)).tickSize(2).tickFormat(''))
  .call(g => g.select('.domain').remove())
  .selectAll('line').attr('stroke', '#8fa9ae').attr('stroke-width', 0.5);

// ---------- header ----------
svg.append('text').attr('x', 40).attr('y', 15).attr('font-size', 13).attr('font-weight', 'bold').attr('fill', '#111').text('QQQ');
svg.append('text').attr('x', 74).attr('y', 15).attr('font-size', 11).attr('fill', '#111')
  .attr('textLength', 181).attr('lengthAdjust', 'spacingAndGlyphs').text('PowerShares QQQ Trust Nasdaq GM');
svg.append('text').attr('x', 40).attr('y', 27).attr('font-size', 11).attr('fill', '#111').text('11-Feb-2014');
svg.append('text').attr('x', 944).attr('y', 14).attr('font-size', 11).attr('fill', '#444').attr('text-anchor', 'end')
  .text('\u00A9StockCharts.com');

const quote = [['Open', '87.94'], ['High', '88.97'], ['Low', '87.89'], ['Close', '88.80'], ['Volume', '38.6M'], ['Chg', '+1.00 (+1.14%)']];
const qt = svg.append('text').attr('x', 936).attr('y', 26).attr('font-size', 11).attr('fill', '#111')
  .attr('text-anchor', 'end').attr('textLength', 434).attr('lengthAdjust', 'spacingAndGlyphs');
quote.forEach(([k, v], i) => {
  qt.append('tspan').attr('font-weight', 'bold').text((i ? '  ' : '') + k + ' ');
  qt.append('tspan').text(v);
});
svg.append('path').attr('d', 'M940,26 L943.5,20 L947,26 Z').attr('fill', '#2f8f3f');

// drawn arrow
svg.append('line').attr('x1', 815).attr('y1', 17).attr('x2', 958).attr('y2', 37)
  .attr('stroke', '#1f3ae6').attr('stroke-width', 2.6);
svg.append('path').attr('d', 'M971,40 L956,31 L959,45 Z').attr('fill', '#1f3ae6');
</script>
</body>
</html>
